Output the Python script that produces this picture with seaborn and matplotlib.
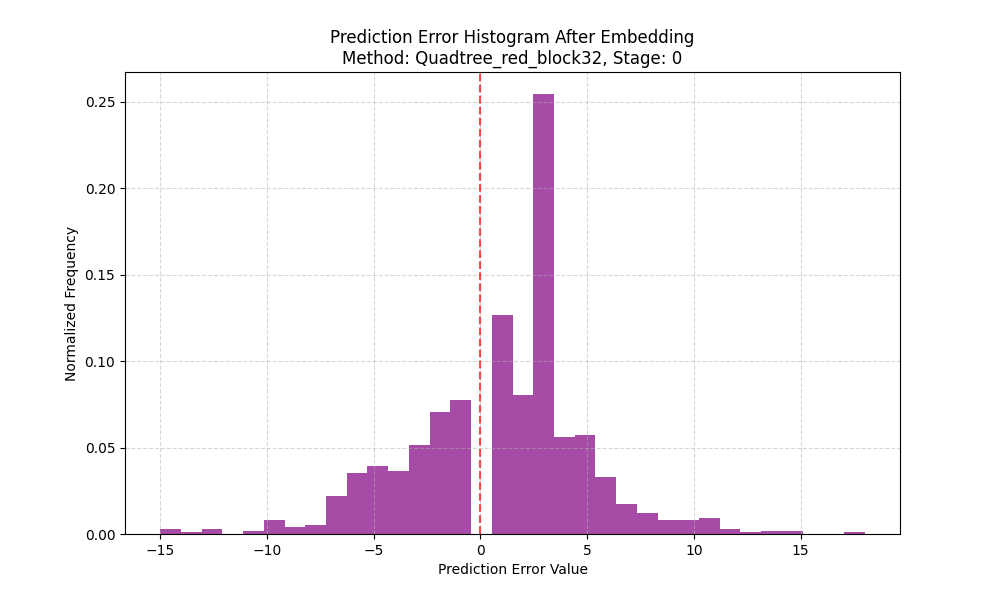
import matplotlib
matplotlib.use("Agg")
import matplotlib.pyplot as plt
import seaborn as sns
import numpy as np
import pandas as pd

# Prediction error values (integer bins) and their normalized frequencies
error_values = list(range(-15, 19))
frequencies = [0.0030, 0.0012, 0.0030, 0.0000, 0.0017, 0.0081, 0.0040, 0.0052,
               0.0220, 0.0353, 0.0393, 0.0365, 0.0515, 0.0706, 0.0775, 0.0000,
               0.1267, 0.0804, 0.2546, 0.0561, 0.0573, 0.0330, 0.0174, 0.0122,
               0.0081, 0.0081, 0.0093, 0.0029, 0.0012, 0.0017, 0.0017, 0.0000,
               0.0000, 0.0012]

df = pd.DataFrame({"error": error_values, "freq": frequencies})

fig, ax = plt.subplots(figsize=(10, 6), dpi=100)
sns.histplot(data=df, x="error", weights="freq", bins=34, stat="density",
             color="purple", alpha=0.7, edgecolor="none", linewidth=0, ax=ax)
ax.axvline(0, color="red", linestyle="--", alpha=0.7)
ax.set_title("Prediction Error Histogram After Embedding\nMethod: Quadtree_red_block32, Stage: 0")
ax.set_xlabel("Prediction Error Value")
ax.set_ylabel("Normalized Frequency")
ax.grid(True, linestyle="--", alpha=0.5)
fig.savefig("out.png", dpi=100)
